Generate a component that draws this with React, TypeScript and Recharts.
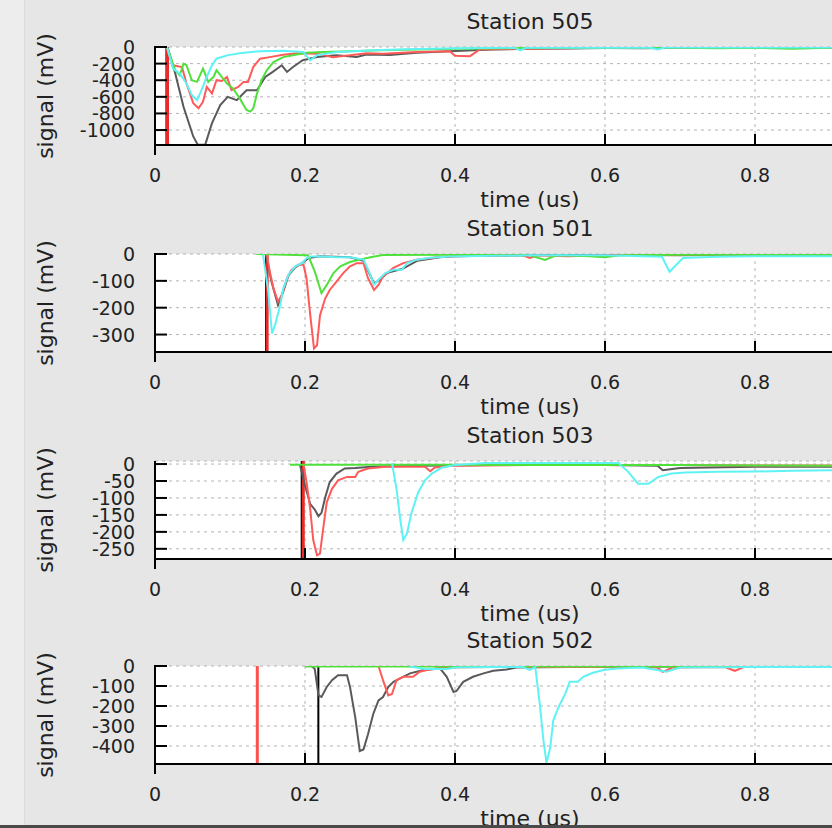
import React from 'react';
import { LineChart, Line, XAxis, YAxis, CartesianGrid, ReferenceLine } from 'recharts';

type Pt = [number, number];

// x ticks shared by all panels (time in us); 1.0 sits past the cropped right edge
const xTicks = [0, 0.2, 0.4, 0.6, 0.8];

// ---- Station 505 ----
const ticks505 = [0, -200, -400, -600, -800, -1000];
const domain505: [number, number] = [-1180, 0];
const gray505: Pt[] = [[0.016,0],[0.018,-40],[0.027,-320],[0.038,-720],[0.051,-1077],[0.057,-1176],[0.067,-1176],[0.076,-917],[0.087,-700],[0.097,-600],[0.109,-640],[0.122,-520],[0.136,-520],[0.147,-360],[0.157,-300],[0.169,-220],[0.176,-300],[0.184,-240],[0.197,-160],[0.216,-120],[0.242,-100],[0.269,-120],[0.282,-90],[0.313,-95],[0.349,-70],[0.393,-50],[0.45,-30],[0.5,-22],[0.55,-18],[0.6,-12],[0.65,-15],[0.7,-8],[0.75,-10],[0.8,-6],[0.85,-8],[0.9,-5],[1,-4]];
const red505: Pt[] = [[0.016,0],[0.018,-78],[0.024,-221],[0.036,-241],[0.042,-440],[0.051,-678],[0.058,-738],[0.064,-659],[0.069,-480],[0.076,-559],[0.082,-400],[0.089,-410],[0.096,-360],[0.102,-519],[0.111,-480],[0.118,-420],[0.124,-420],[0.131,-241],[0.14,-141],[0.153,-122],[0.171,-93],[0.189,-74],[0.216,-80],[0.237,-122],[0.26,-100],[0.282,-74],[0.304,-80],[0.349,-60],[0.393,-50],[0.4,-105],[0.42,-110],[0.433,-30],[0.47,-25],[0.55,-15],[0.6,-10],[0.7,-8],[0.8,-6],[0.9,-8],[1,-5]];
const green505: Pt[] = [[0.016,0],[0.027,-280],[0.033,-340],[0.038,-200],[0.042,-220],[0.049,-400],[0.056,-420],[0.064,-260],[0.071,-420],[0.078,-360],[0.082,-280],[0.089,-360],[0.096,-440],[0.104,-500],[0.113,-619],[0.122,-758],[0.127,-778],[0.131,-740],[0.136,-559],[0.142,-400],[0.149,-280],[0.158,-181],[0.171,-122],[0.189,-90],[0.202,-70],[0.224,-60],[0.26,-50],[0.3,-40],[0.35,-30],[0.4,-20],[0.5,-12],[0.6,-10],[0.7,-8],[0.75,-15],[0.8,-10],[0.85,-20],[0.9,-10],[1,-5]];
const cyan505: Pt[] = [[0.005,0],[0.016,0],[0.024,-260],[0.033,-320],[0.042,-440],[0.049,-579],[0.056,-639],[0.062,-519],[0.069,-360],[0.076,-221],[0.082,-141],[0.096,-101],[0.113,-74],[0.14,-50],[0.171,-45],[0.198,-60],[0.207,-161],[0.216,-100],[0.242,-60],[0.3,-35],[0.35,-25],[0.4,-15],[0.48,-10],[0.487,-40],[0.495,-10],[0.6,-8],[0.66,-5],[0.67,-30],[0.68,-5],[0.8,-5],[0.9,-5],[1,-3]];
const marks505 = [{ x: 0.0153, color: '#000' }, { x: 0.0167, color: '#e82a2a' }];

// ---- Station 501 ----
const ticks501 = [0, -100, -200, -300];
const domain501: [number, number] = [-365, 0];
const gray501: Pt[] = [[0.148,0],[0.155,-100],[0.164,-190],[0.171,-140],[0.178,-80],[0.187,-50],[0.196,-34],[0.205,-15],[0.22,-8],[0.26,-12],[0.278,-25],[0.292,-110],[0.3,-95],[0.31,-70],[0.33,-55],[0.35,-25],[0.38,-12],[0.4,-8],[0.5,-5],[0.6,-3],[0.7,-5],[0.8,-3],[0.9,-3],[1,-2]];
const red501: Pt[] = [[0.149,0],[0.153,-65],[0.158,-128],[0.164,-178],[0.169,-153],[0.176,-90],[0.182,-59],[0.191,-40],[0.198,-40],[0.202,-90],[0.207,-228],[0.212,-352],[0.216,-340],[0.22,-228],[0.227,-165],[0.233,-134],[0.242,-103],[0.251,-71],[0.26,-46],[0.269,-34],[0.278,-34],[0.284,-90],[0.292,-134],[0.298,-115],[0.304,-84],[0.318,-52],[0.331,-34],[0.349,-21],[0.376,-12],[0.393,-9],[0.45,-5],[0.49,-5],[0.5,-15],[0.51,-5],[0.55,-8],[0.6,-5],[0.7,-3],[0.8,-3],[0.9,-2],[1,-2]];
const green501: Pt[] = [[0.135,0],[0.2,-5],[0.204,-5],[0.213,-65],[0.222,-146],[0.229,-115],[0.238,-71],[0.247,-46],[0.26,-30],[0.273,-21],[0.287,-12],[0.304,-4],[0.4,-3],[0.5,-5],[0.52,-22],[0.535,-5],[0.58,-8],[0.6,-12],[0.62,-5],[0.7,-3],[0.8,-3],[0.9,-3],[1,-2]];
const cyan501: Pt[] = [[0.144,0],[0.151,-140],[0.156,-296],[0.16,-265],[0.167,-190],[0.171,-128],[0.178,-77],[0.187,-46],[0.196,-34],[0.202,-15],[0.209,-9],[0.224,-9],[0.242,-12],[0.26,-12],[0.278,-21],[0.287,-77],[0.292,-115],[0.298,-96],[0.307,-71],[0.318,-59],[0.329,-59],[0.336,-34],[0.349,-21],[0.367,-14],[0.393,-9],[0.5,-5],[0.6,-5],[0.676,-10],[0.686,-66],[0.704,-15],[0.75,-10],[0.8,-8],[0.9,-8],[1,-6]];
const marks501 = [{ x: 0.148, color: '#000' }, { x: 0.1495, color: '#e82a2a' }];

// ---- Station 503 ----
const ticks503 = [0, -50, -100, -150, -200, -250];
const domain503: [number, number] = [-280, 9];
const gray503: Pt[] = [[0.193,0],[0.2,-63],[0.207,-118],[0.213,-134],[0.218,-154],[0.222,-144],[0.227,-98],[0.233,-53],[0.242,-28],[0.253,-13],[0.267,-12],[0.289,-8],[0.35,-5],[0.45,-3],[0.55,-3],[0.6,-3],[0.67,-5],[0.677,-18],[0.7,-12],[0.8,-8],[0.9,-8],[1,-6]];
const red503: Pt[] = [[0.198,0],[0.202,-53],[0.207,-134],[0.211,-224],[0.216,-269],[0.22,-264],[0.224,-194],[0.229,-113],[0.236,-73],[0.244,-48],[0.256,-38],[0.267,-38],[0.271,-23],[0.284,-13],[0.307,-8],[0.36,-8],[0.367,-21],[0.373,-10],[0.396,-5],[0.5,-3],[0.6,-3],[0.7,-3],[0.8,-4],[0.9,-4],[1,-3]];
const green503: Pt[] = [[0.18,-2],[0.3,-2],[0.4,-2],[0.5,-3],[0.6,-3],[0.7,-3],[0.8,-4],[0.9,-5],[1,-5]];
const cyan503: Pt[] = [[0.316,3],[0.322,-73],[0.327,-164],[0.331,-224],[0.336,-204],[0.342,-144],[0.351,-83],[0.36,-48],[0.369,-28],[0.382,-11],[0.4,-3],[0.44,3],[0.529,3],[0.618,3],[0.631,-23],[0.644,-58],[0.658,-58],[0.671,-38],[0.689,-28],[0.707,-25],[0.75,-23],[0.8,-22],[0.85,-20],[0.9,-18],[1,-15]];
const marks503 = [{ x: 0.1956, color: '#000' }, { x: 0.1977, color: '#e82a2a' }];

// ---- Station 502 ----
const ticks502 = [0, -100, -200, -300, -400];
const domain502: [number, number] = [-490, 0];
const gray502: Pt[] = [[0.209,0],[0.213,-15],[0.218,-147],[0.222,-155],[0.229,-105],[0.236,-71],[0.244,-46],[0.256,-46],[0.26,-105],[0.267,-257],[0.273,-425],[0.278,-417],[0.284,-341],[0.291,-240],[0.298,-172],[0.304,-155],[0.311,-105],[0.318,-79],[0.327,-62],[0.34,-37],[0.358,-20],[0.38,-12],[0.389,-54],[0.398,-130],[0.402,-125],[0.411,-79],[0.424,-54],[0.438,-37],[0.451,-24],[0.469,-17],[0.482,-8],[0.55,-5],[0.6,-5],[0.7,-3],[0.8,-3],[0.9,-3],[1,-2]];
const red502: Pt[] = [[0.298,0],[0.304,-71],[0.311,-147],[0.316,-140],[0.322,-71],[0.331,-54],[0.344,-54],[0.353,-29],[0.367,-17],[0.384,-7],[0.45,-5],[0.55,-5],[0.65,-5],[0.67,-8],[0.677,-29],[0.69,-8],[0.76,-5],[0.773,-24],[0.785,-5],[0.9,-3],[1,-3]];
const green502: Pt[] = [[0.2,-2],[0.3,-2],[0.4,-3],[0.5,-3],[0.6,-3],[0.7,-3],[0.8,-3],[0.9,-3],[1,-3]];
const cyan502: Pt[] = [[0.34,-3],[0.36,-15],[0.39,-15],[0.4,-8],[0.45,-5],[0.49,-5],[0.5,-20],[0.507,-5],[0.513,-189],[0.518,-375],[0.522,-484],[0.527,-408],[0.531,-273],[0.538,-206],[0.547,-138],[0.553,-79],[0.564,-79],[0.571,-54],[0.584,-34],[0.598,-20],[0.616,-12],[0.65,-8],[0.682,-29],[0.7,-8],[0.8,-5],[0.9,-5],[1,-3]];
const marks502 = [{ x: 0.1364, color: '#ff5050' }, { x: 0.2178, color: '#000' }];

const COLORS = { gray: '#5a5a5a', red: '#ff5a5a', green: '#4fe03c', cyan: '#5ff2f5' };
const FONT = '"DejaVu Sans", sans-serif';

const toRows = (pts: Pt[]) => pts.map(([t, v]) => ({ t, v }));

const panels = [
  { title: 'Station 505', top: 0, domain: domain505, ticks: ticks505, marks: marks505, series: [gray505, red505, green505, cyan505] },
  { title: 'Station 501', top: 207, domain: domain501, ticks: ticks501, marks: marks501, series: [gray501, red501, green501, cyan501] },
  { title: 'Station 503', top: 414, domain: domain503, ticks: ticks503, marks: marks503, series: [gray503, red503, green503, cyan503] },
  { title: 'Station 502', top: 619, domain: domain502, ticks: ticks502, marks: marks502, series: [gray502, red502, green502, cyan502] },
];
const seriesColors = [COLORS.gray, COLORS.red, COLORS.green, COLORS.cyan];

const PLOT_LEFT = 155;
const PLOT_W = 750;
const MARGIN_TOP = 47;
const CHART_H = 207;
const XAXIS_H = 62;

const XTick = (props: any) => {
  const { x, y, payload } = props;
  const out = payload.value === 0;
  return (
    <g>
      <line x1={x} x2={x} y1={y} y2={out ? y + 10 : y - 11} stroke="#000" strokeWidth={2} />
      <text x={x} y={y + 30} textAnchor="middle" dominantBaseline="central" fontSize={19} fontFamily={FONT} fill="#222">
        {payload.value}
      </text>
    </g>
  );
};

const TopTick = (props: any) => {
  const { x, y } = props;
  return <line x1={x - 10} x2={x} y1={y} y2={y} stroke="#000" strokeWidth={2} />;
};

const YTick = (props: any) => {
  const { x, y, payload } = props;
  return (
    <g>
      <line x1={x - 1} x2={x + 12} y1={y} y2={y} stroke="#000" strokeWidth={2} />
      <text x={x - 20} y={y} textAnchor="end" dominantBaseline="central" fontSize={19} fontFamily={FONT} fill="#222">
        {payload.value}
      </text>
    </g>
  );
};

const Panel = ({ p }: { p: typeof panels[number] }) => {
  const plotH = CHART_H - MARGIN_TOP - XAXIS_H;
  const cx = PLOT_LEFT + PLOT_W / 2;
  return (
    <div style={{ position: 'absolute', left: 0, top: p.top, width: PLOT_LEFT + PLOT_W, height: CHART_H }}>
      <div style={{ position: 'absolute', left: cx - 150, width: 300, top: 9, textAlign: 'center', fontSize: 22, lineHeight: '26px', fontFamily: FONT, color: '#222' }}>
        {p.title}
      </div>
      <div style={{ position: 'absolute', left: 46, top: MARGIN_TOP + plotH / 2, transform: 'translate(-50%, -50%) rotate(-90deg)', whiteSpace: 'nowrap', fontSize: 22, lineHeight: '26px', fontFamily: FONT, color: '#222' }}>
        signal (mV)
      </div>
      <div style={{ position: 'absolute', left: cx - 150, width: 300, top: MARGIN_TOP + plotH + 42, textAlign: 'center', fontSize: 22, lineHeight: '26px', fontFamily: FONT, color: '#222' }}>
        time (us)
      </div>
      <LineChart width={PLOT_LEFT + PLOT_W} height={CHART_H} margin={{ top: MARGIN_TOP, right: 0, bottom: 0, left: 0 }}>
        <CartesianGrid fill="#fff" stroke="#b4b4b4" strokeDasharray="3 4" />
        <XAxis dataKey="t" type="number" domain={[0, 1]} ticks={xTicks} interval={0} height={XAXIS_H}
          tickSize={0} tickMargin={0} tickLine={false} tick={XTick} axisLine={{ stroke: '#000', strokeWidth: 2 }} allowDataOverflow />
        <XAxis xAxisId="top" orientation="top" dataKey="t" type="number" domain={[0, 1]} ticks={[0]} interval={0} height={0}
          tickSize={0} tickMargin={0} tickLine={false} tick={TopTick} axisLine={{ stroke: '#000', strokeWidth: 2 }} />
        <YAxis type="number" domain={p.domain} ticks={p.ticks} interval={0} width={PLOT_LEFT}
          tickSize={0} tickMargin={0} tickLine={false} tick={YTick} axisLine={{ stroke: '#000', strokeWidth: 2 }} allowDataOverflow />
        {p.marks.map((m, i) => (
          <ReferenceLine key={'m' + i} x={m.x} stroke={m.color} strokeWidth={m.color === '#000' ? 2 : 3} />
        ))}
        {p.series.map((s, i) => (
          <Line key={i} data={toRows(s)} dataKey="v" type="linear" stroke={seriesColors[i]} strokeWidth={2}
            dot={false} activeDot={false} isAnimationActive={false} />
        ))}
      </LineChart>
    </div>
  );
};

export default function App() {
  return (
    <div style={{ position: 'fixed', left: 0, top: 0, width: 832, height: 828, overflow: 'hidden', background: '#e6e6e6' }}>
      <div style={{ position: 'absolute', left: 0, top: 0, width: 24, height: 828, background: '#ededed', borderRight: '1px solid #dcdcdc' }} />
      {panels.map((p) => (
        <Panel key={p.title} p={p} />
      ))}
      <div style={{ position: 'absolute', left: 0, top: 825, width: 832, height: 3, background: '#4a4a4a' }} />
    </div>
  );
}
